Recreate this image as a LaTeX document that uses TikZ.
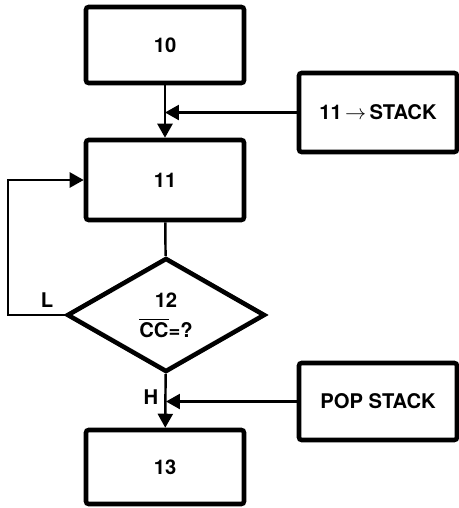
\documentclass[tikz,border=0pt]{standalone}
\usepackage{fontspec}
\setmainfont{TeX Gyre Heros}
\usetikzlibrary{arrows.meta,shapes.geometric}
\tikzset{
  block/.style={draw, line width=2.6pt, rounded corners=1.5pt, minimum width=3.16cm, inner sep=0pt, font=\fontsize{11.5}{14}\bfseries},
  decision/.style={draw, diamond, line width=2.6pt, aspect=1.74, minimum width=3.96cm, minimum height=2.28cm, inner sep=0pt, align=center, font=\fontsize{11.5}{14}\bfseries},
  flow/.style={line width=1.4pt, -{Triangle[length=0.28cm,width=0.3cm]}},
  link/.style={line width=1.4pt},
  tag/.style={font=\fontsize{11.5}{14}\bfseries}
}
\begin{document}
\begin{tikzpicture}[x=0.02cm, y=-0.02cm]
\useasboundingbox (0,0) rectangle (458,508);
% main column
\node[block, minimum height=1.52cm] (Step 10) at (165,45) {10};
\node[block, minimum height=1.6cm] (Step 11) at (165,180) {11};
\node[decision] (Step 12) at (166,315) {12\\[3pt]$\overline{\hbox{\bfseries CC}}$=?};
\node[block, minimum height=1.48cm] (Step 13) at (165,467) {13};

% side boxes
\node[block, minimum height=1.58cm] (Push) at (378,112.5) {11\,$\rightarrow$\,STACK};
\node[block, minimum height=1.54cm] (Pop) at (378,401.5) {POP STACK};

\coordinate (Loop) at (8,315);
\node[tag] (L label) at (47,300) {L};
\node[tag] (H label) at (151,397) {H};

\draw[flow] (Step 10) -- (Step 11);
\draw[flow] (Push.west) -- (Push.west -| Step 10.south);
\draw[link] (Step 11) -- (Step 12);
\draw[flow] (Step 12.west) -- (Loop) |- (Step 11.west);
\draw[flow] (Step 12) -- (Step 13);
\draw[flow] (Pop.west) -- (Pop.west -| Step 12.south);
\end{tikzpicture}
\end{document}
